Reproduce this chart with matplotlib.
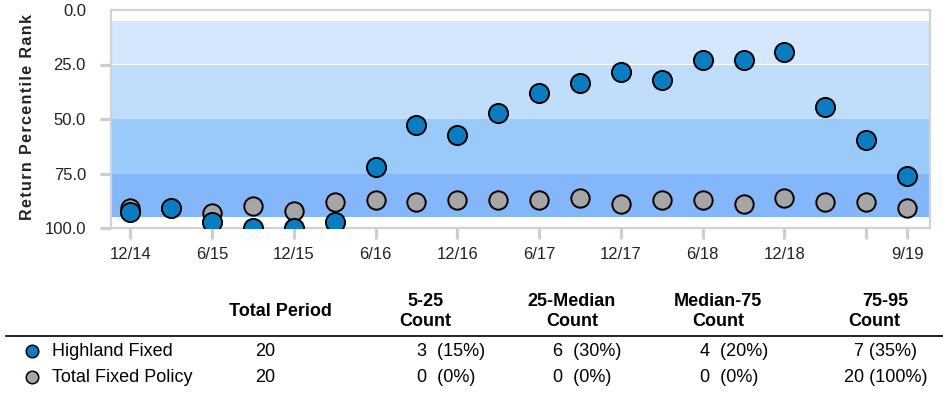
import matplotlib
matplotlib.use("Agg")
import matplotlib.pyplot as plt

plt.rcParams['font.family'] = ['Liberation Sans', 'DejaVu Sans']

# --- data ---
quarters = ['12/14', '3/15', '6/15', '9/15', '12/15', '3/16', '6/16', '9/16', '12/16', '3/17',
            '6/17', '9/17', '12/17', '3/18', '6/18', '9/18', '12/18', '3/19', '6/19', '9/19']
tick_idx = [0, 2, 4, 6, 8, 10, 12, 14, 16, 18, 19]
tick_labels = ['12/14', '6/15', '12/15', '6/16', '12/16', '6/17', '12/17', '6/18', '12/18', '', '9/19']

highland_fixed = [92.5, 90.7, 97.1, 99.9, 99.9, 97.1, 71.9, 52.6, 57.3, 47.4,
                  38.2, 33.6, 28.3, 32.0, 22.9, 22.9, 19.1, 44.6, 59.8, 76.3]
total_fixed_policy = [91.0, 91.0, 93.0, 89.8, 92.2, 87.9, 87.2, 87.9, 87.2, 87.2,
                      87.2, 86.1, 88.8, 87.2, 87.2, 88.8, 86.2, 87.9, 87.9, 90.7]

band_edges = [5, 25, 50, 75, 95]
band_colors = ['#D4E7FD', '#C0DDFC', '#99CAFA', '#84B6FA']

blue = '#0A7DC2'
gray = '#A6A6A6'

# summary table
row_names = ['Highland Fixed', 'Total Fixed Policy']
row_colors = [blue, gray]
total_period = [20, 20]
col_headers = [('5-25', 'Count'), ('25-Median', 'Count'), ('Median-75', 'Count'), ('75-95', 'Count')]
counts = [[3, 6, 4, 7], [0, 0, 0, 20]]
pcts = [[15, 30, 20, 35], [0, 0, 0, 100]]

W, H = 943, 393
fig = plt.figure(figsize=(W / 100, H / 100), dpi=100)
ax = fig.add_axes([111 / W, 1 - 228 / H, (930 - 111) / W, (228 - 10) / H])

x = list(range(len(quarters)))

for lo, hi, c in zip(band_edges[:-1], band_edges[1:], band_colors):
    ax.axhspan(lo, hi, color=c, lw=0, zorder=0)

ax.scatter(x, total_fixed_policy, s=175, color=gray, edgecolor='black', linewidth=1.4, zorder=3)
ax.scatter(x, highland_fixed, s=190, color=blue, edgecolor='black', linewidth=1.4, zorder=4)

ax.set_xlim(-0.47, 19.56)
ax.set_ylim(100, 0)
ax.set_yticks([0, 25, 50, 75, 100])
ax.set_yticklabels(['0.0', '25.0', '50.0', '75.0', '100.0'])
ax.set_xticks(tick_idx)
ax.set_xticklabels(tick_labels)

tick_col = '#C9CED3'
ax.tick_params(axis='both', direction='out', length=8, width=2.3, color=tick_col,
               labelsize=12, labelcolor='#222222')
ax.tick_params(axis='y', pad=10)
ax.tick_params(axis='x', pad=6)
# no tick mark at 0.0
ax.yaxis.get_major_ticks()[0].tick1line.set_visible(False)

for sp in ax.spines.values():
    sp.set_color('#D2D2D2')
    sp.set_linewidth(1.6)

# vertical axis title with wide letter spacing
ylab = '\u200a'.join('Return Percentile Rank')
fig.text(28 / W, 1 - 117 / H, ylab, rotation=90, ha='center', va='center',
         fontsize=11.5, fontweight='bold', color='#222222')

# --- summary table under the chart ---
def fx(px):
    return px / W

def fy(py):
    return 1 - py / H

fs = 13
fig.text(fx(280), fy(312), 'Total Period', ha='center', va='center', fontsize=fs, fontweight='bold')
head_x = [425, 572, 718, 885]
count_x = [425, 572, 718, 874]
for hx, cx, (h1, h2) in zip(head_x, count_x, col_headers):
    fig.text(fx(hx), fy(302), h1, ha='center', va='center', fontsize=fs, fontweight='bold')
    fig.text(fx(cx), fy(322), h2, ha='center', va='center', fontsize=fs, fontweight='bold')

fig.add_artist(plt.Line2D([fx(6), fx(943)], [fy(336), fy(336)], color='black', lw=1.2))

row_y = [351, 377]
val_x = [417, 553, 700]
for r, ry in enumerate(row_y):
    fig.add_artist(plt.Line2D([fx(32)], [fy(ry)], marker='o', markersize=9,
                              markerfacecolor=row_colors[r], markeredgecolor='black',
                              markeredgewidth=1.1, linestyle='none'))
    fig.text(fx(52), fy(ry), row_names[r], ha='left', va='center', fontsize=fs)
    fig.text(fx(265), fy(ry), str(total_period[r]), ha='center', va='center', fontsize=fs)
    for c in range(3):
        fig.text(fx(val_x[c]), fy(ry), f'{counts[r][c]}  ({pcts[r][c]}%)',
                 ha='left', va='center', fontsize=fs)
    fig.text(fx(886), fy(ry), f'{counts[r][3]} ({pcts[r][3]}%)',
             ha='center', va='center', fontsize=fs)

fig.savefig('out.png', dpi=100)
